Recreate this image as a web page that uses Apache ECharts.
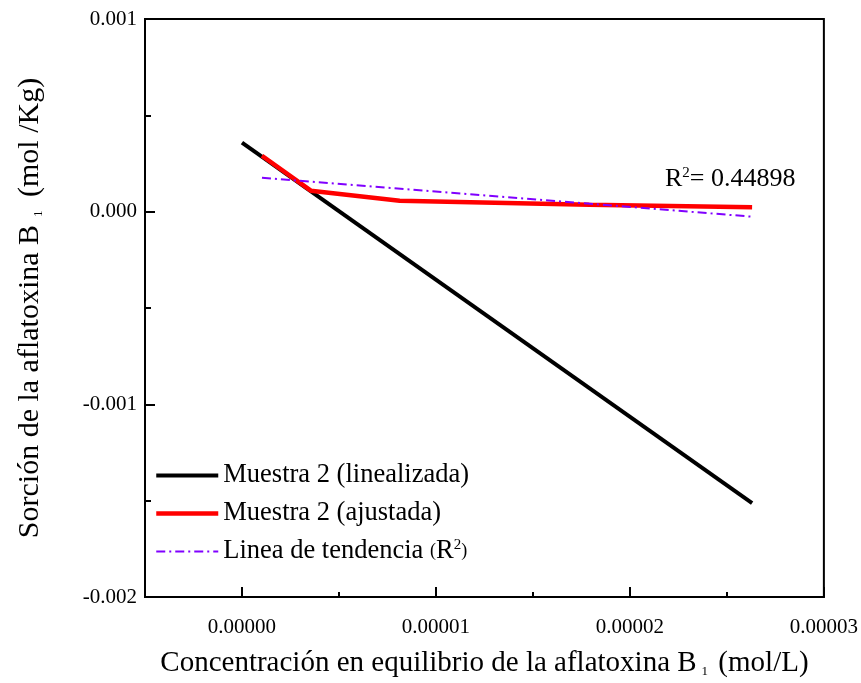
<!DOCTYPE html>
<html>
<head>
<meta charset="utf-8">
<script src="https://cdn.jsdelivr.net/npm/echarts@6/dist/echarts.min.js"></script>
<style>html,body{margin:0;padding:0;background:#fff}#c{width:861px;height:683px}</style>
</head>
<body>
<div id="c"></div>
<script>
// Data
const xLinealizada = [0, 2.63e-5];
const yLinealizada = [3.58e-4, -1.513e-3];
const xAjustada = [1.03e-6, 3.55e-6, 8.13e-6, 1.79e-5, 2.63e-5];
const yAjustada = [2.90e-4, 1.09e-4, 5.7e-5, 3.6e-5, 2.3e-5];
const xTendencia = [1.03e-6, 2.63e-5];
const yTendencia = [1.76e-4, -2.6e-5];
const seriesNames = ['Muestra 2 (linealizada)', 'Muestra 2 (ajustada)', 'Linea de tendencia (R2)'];
const r2Value = '0.44898';

const FONT = '"Liberation Serif", "Times New Roman", serif';
const pairs = (xs, ys) => xs.map((x, i) => [x, ys[i]]);

const chart = echarts.init(document.getElementById('c'), null, {renderer: 'canvas'});
chart.setOption({
  animation: false,
  backgroundColor: '#ffffff',
  textStyle: {fontFamily: FONT, color: '#000'},
  grid: {left: 145, right: 36, top: 19, bottom: 85, show: true, borderColor: '#000', borderWidth: 2, backgroundColor: 'transparent'},
  xAxis: [
    {
      type: 'value', min: -5e-6, max: 3e-5, interval: 5e-6, position: 'bottom',
      axisLine: {onZero: false, lineStyle: {color: '#000', width: 2}},
      axisTick: {inside: true, length: 5, lineStyle: {color: '#000', width: 2}},
      axisLabel: {show: false},
      splitLine: {show: false},
      name: 'Concentración en equilibrio de la aflatoxina B{sub|1} (mol/L)',
      nameLocation: 'middle', nameGap: 52,
      nameTextStyle: {fontFamily: FONT, fontSize: 29, color: '#000',
        rich: {sub: {fontFamily: FONT, fontSize: 13, color: '#000', verticalAlign: 'bottom', padding: [0, 3, 0, 5]}}}
    },
    {
      type: 'value', inverse: true, min: -3e-5, max: 5e-6, interval: 1e-5, position: 'bottom',
      axisLine: {show: false, onZero: false},
      axisTick: {inside: true, length: 10, lineStyle: {color: '#000', width: 2}},
      axisLabel: {fontFamily: FONT, fontSize: 21, color: '#000', margin: 20, showMaxLabel: false,
        formatter: v => Math.abs(v).toFixed(5)},
      splitLine: {show: false}
    }
  ],
  yAxis: {
    type: 'value', min: -0.002, max: 0.001, interval: 0.001,
    axisLine: {onZero: false, lineStyle: {color: '#000', width: 2}},
    axisTick: {inside: true, length: 10, lineStyle: {color: '#000', width: 2}},
    minorTick: {show: true, splitNumber: 2, length: 6, lineStyle: {color: '#000', width: 2}},
    axisLabel: {fontFamily: FONT, fontSize: 21, color: '#000', margin: 8,
      formatter: v => v.toFixed(3)},
    splitLine: {show: false},
    name: 'Sorción de la aflatoxina B{sub|1} (mol /Kg)',
    nameLocation: 'middle', nameGap: 100,
    nameTextStyle: {fontFamily: FONT, fontSize: 30, color: '#000',
      rich: {sub: {fontFamily: FONT, fontSize: 13, color: '#000', verticalAlign: 'bottom', padding: [0, 6, 0, 8]}}}
  },
  legend: {
    orient: 'vertical', left: 149, top: 457, itemGap: 11, itemWidth: 62, itemHeight: 14,
    lineStyle: {width: 'inherit'},
    itemStyle: {color: 'rgba(0,0,0,0)', borderWidth: 0, opacity: 0},
    textStyle: {fontFamily: FONT, fontSize: 26.5, color: '#000',
      rich: {
        p: {fontFamily: FONT, fontSize: 18, color: '#000'},
        sup: {fontFamily: FONT, fontSize: 15, color: '#000', verticalAlign: 'top', padding: [0, 0, 10, 0]},
        t: {fontFamily: FONT, fontSize: 26.5, color: '#000'}
      }},
    formatter: name => name === seriesNames[2] ? '{t|Linea de tendencia }{p|(}{t|R}{sup|2}{p|)}' : name,
    data: seriesNames
  },
  series: [
    {name: seriesNames[0], type: 'line', xAxisIndex: 0, data: pairs(xLinealizada, yLinealizada),
      showSymbol: false, symbol: 'none', lineStyle: {color: '#000', width: 4}, itemStyle: {color: '#000'}, z: 2},
    {name: seriesNames[1], type: 'line', xAxisIndex: 0, data: pairs(xAjustada, yAjustada),
      showSymbol: false, symbol: 'none', lineStyle: {color: '#ff0000', width: 4.5}, itemStyle: {color: '#ff0000'}, z: 3},
    {name: seriesNames[2], type: 'line', xAxisIndex: 0, data: pairs(xTendencia, yTendencia),
      showSymbol: false, symbol: 'none', lineStyle: {color: '#8000ff', width: 2, type: [9, 4, 2, 4]}, itemStyle: {color: '#8000ff'}, z: 4}
  ],
  graphic: [{
    type: 'text', left: 665, top: 166, z: 10,
    style: {
      text: '{r|R}{sup|2}{r|= ' + r2Value + '}',
      fill: '#000',
      rich: {
        r: {fontFamily: FONT, fontSize: 26, fill: '#000'},
        sup: {fontFamily: FONT, fontSize: 15, fill: '#000', verticalAlign: 'top', padding: [0, 0, 10, 0]}
      }
    }
  }]
});
</script>
</body>
</html>
